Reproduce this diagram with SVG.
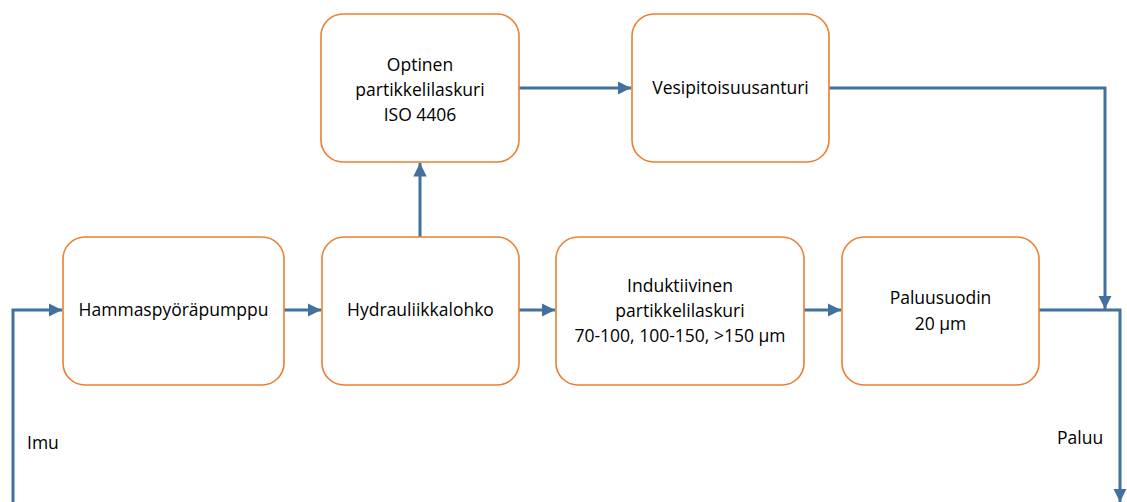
<svg xmlns="http://www.w3.org/2000/svg" width="1127" height="502" viewBox="0 0 1127 502">
<style>
.box{fill:#fff;stroke:#ED7D31;stroke-width:1.6}
.t{font-family:"Open Sans","Liberation Sans",sans-serif;font-size:17.5px;fill:#000;text-anchor:middle}
.l{font-family:"Open Sans","Liberation Sans",sans-serif;font-size:17.5px;fill:#000}
.c{fill:none;stroke:#41719C;stroke-width:3}
</style>
<defs>
<marker id="a" viewBox="0 0 10 10" refX="10" refY="5" markerWidth="4.5" markerHeight="4.5" orient="auto" markerUnits="strokeWidth">
<path d="M0,0 L10,5 L0,10 z" fill="#41719C"/>
</marker>
</defs>
<g id="connectors">
<path class="c" d="M13,502 V310 H62" marker-end="url(#a)"/>
<path class="c" d="M284,310 H321" marker-end="url(#a)"/>
<path class="c" d="M420,237 V163" marker-end="url(#a)"/>
<path class="c" d="M519,88 H631" marker-end="url(#a)"/>
<path class="c" d="M519,310 H555" marker-end="url(#a)"/>
<path class="c" d="M804,310 H841" marker-end="url(#a)"/>
<path class="c" d="M829,88 H1105 V309" marker-end="url(#a)"/>
<path class="c" d="M1039,310 H1120 V502" marker-end="url(#a)"/>
</g>
<g id="n1"><rect class="box" x="63" y="237" width="221" height="148" rx="22"/><text class="t" x="173.5" y="316">Hammaspyöräpumppu</text></g>
<g id="n2"><rect class="box" x="322" y="237" width="197" height="148" rx="22"/><text class="t" x="420.5" y="316">Hydrauliikkalohko</text></g>
<g id="n3"><rect class="box" x="321" y="14" width="198" height="148" rx="22"/><text class="t" x="420" y="71">Optinen</text><text class="t" x="420" y="96">partikkelilaskuri</text><text class="t" x="420" y="121">ISO 4406</text></g>
<g id="n4"><rect class="box" x="632" y="14" width="197" height="148" rx="22"/><text class="t" x="730.5" y="94">Vesipitoisuusanturi</text></g>
<g id="n5"><rect class="box" x="556" y="237" width="248" height="148" rx="22"/><text class="t" x="680" y="292">Induktiivinen</text><text class="t" x="680" y="317">partikkelilaskuri</text><text class="t" x="680" y="342">70-100, 100-150, &gt;150 µm</text></g>
<g id="n6"><rect class="box" x="842" y="237" width="197" height="148" rx="22"/><text class="t" x="940.5" y="304">Paluusuodin</text><text class="t" x="940.5" y="330">20 µm</text></g>
<text class="l" x="27" y="449">Imu</text>
<text class="l" x="1057" y="444">Paluu</text>
</svg>
